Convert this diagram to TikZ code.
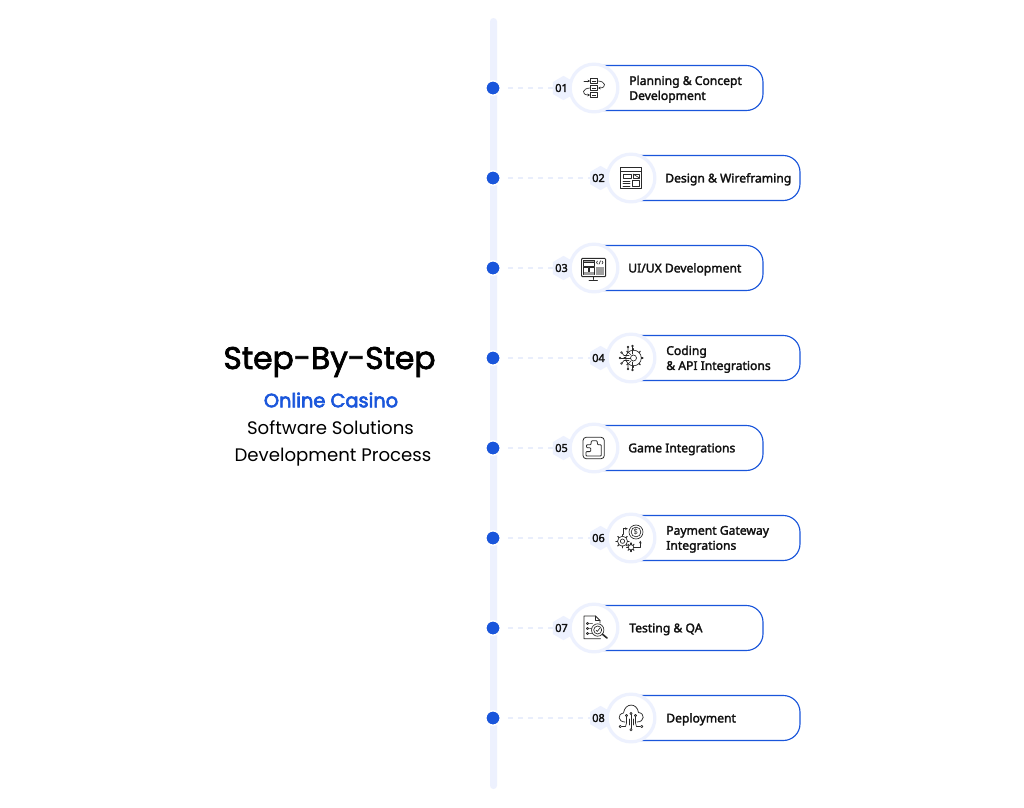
\documentclass[tikz,border=0pt]{standalone}
\usepackage{fontspec}
\usetikzlibrary{shapes.geometric,calc,arrows.meta}
\setmainfont{Poppins}
\newfontfamily\lblfont{Noto Sans}[RawFeature={embolden=2.2}]
\newfontfamily\titlefont{Poppins}[RawFeature={embolden=2.2}]
\newfontfamily\subfont{Poppins}[RawFeature={embolden=3.2}]
\definecolor{brandblue}{HTML}{1A56DB}
\definecolor{palerail}{HTML}{EDF1FE}
\definecolor{paledash}{HTML}{E9EEFC}
\definecolor{inkdark}{HTML}{111111}
\definecolor{icongrey}{HTML}{2A2A2A}
\tikzset{
  x=0.75pt,y=-0.75pt,
  railbar/.style={fill=palerail,rounded corners=2.6pt},
  dotnode/.style={circle,fill=brandblue,draw=white,line width=1.1pt,minimum size=10.8pt,inner sep=0pt},
  hexnode/.style={regular polygon,regular polygon sides=6,shape border rotate=30,fill=palerail,minimum size=18.2pt,inner sep=0pt},
  ringnode/.style={circle,fill=white,draw=palerail,line width=2.4pt,minimum size=35.8pt,inner sep=0pt},
  anchorpt/.style={inner sep=0pt,minimum size=0pt},
  linkdash/.style={draw=paledash,line width=0.9pt,dash pattern=on 3.9pt off 3.6pt,shorten <=5.5pt,shorten >=0pt},
  cardline/.style={draw=brandblue,line width=0.85pt,rounded corners=12.5pt,fill=white},
  numtext/.style={font=\lblfont\fontsize{8.2pt}{9pt}\selectfont,text=inkdark,inner sep=0pt},
  cardtext/.style={font=\lblfont\fontsize{9.1pt}{11.25pt}\selectfont,text=inkdark,align=left,anchor=west,inner sep=0pt},
  icon/.style={draw=icongrey,line width=0.5pt,line cap=round,line join=round},
  iconfill/.style={fill=icongrey!45,draw=icongrey,line width=0.4pt},
  tinyhead/.style={-{Stealth[length=2pt,width=2pt]}},
  headtext/.style={text=black,inner sep=0pt},
}
% item: name, y, circle x, number, text x, text, card width, icon macro
\newcommand\stepitem[8]{%
  \node[dotnode] (dot#1) at (493,#2) {};
  \node[anchorpt] (cardtop#1) at (#3,#2-22.5) {};
  \node[anchorpt] (cardbot#1) at (#3,#2+22.5) {};
  \coordinate (cardtr#1) at (#3+#7,#2-22.5);
  \coordinate (cardbr#1) at (#3+#7,#2+22.5);
  \path[cardline] (cardtop#1.center) -- (cardtr#1) -- (cardbr#1) -- (cardbot#1.center);
  \node[hexnode] (hex#1) at (#3-30.5,#2) {};
  \draw[linkdash] (dot#1) -- (hex#1.west);
  \node[ringnode] (ring#1) at (#3,#2) {};
  \node[numtext] (num#1) at (#3-32.5,#2) {#4};
  \node[cardtext] (text#1) at (#5,#2+1.3) {#6};
  \begin{scope}[shift={(#3,#2)}]#8\end{scope}
}
\newcommand\gearicon[3]{%
  \draw[icon] (#1,#2) circle (#3);
  \foreach \a in {0,45,...,315}{\draw[icon,line width=0.8pt] ($(#1,#2)+(\a:#3)$) -- ($(#1,#2)+(\a:#3+1.6)$);}
}
\newcommand\iconplan{%
  \foreach \v in {-7,0,7}{\draw[icon] (-3.5,\v-2.6) rectangle (3.5,\v+2.6); \draw[icon,line width=0.3pt] (-1.8,\v) -- (1.8,\v);}
  \draw[icon,tinyhead] (-10,-7) -- (-3.8,-7);
  \draw[icon,tinyhead] (3.5,-7) .. controls (12,-7) and (13,0) .. (4,0);
  \draw[icon,tinyhead] (-3.5,0) .. controls (-12,0) and (-13,7) .. (-4,7);
}
\newcommand\icondesign{%
  \draw[icon,line width=0.6pt] (-10.5,-10.5) rectangle (10.5,10.5);
  \draw[icon,line width=0.6pt] (-10.5,-7) -- (10.5,-7);
  \draw[icon] (-8,-4) rectangle (0,0);
  \draw[icon] (2,-4) rectangle (8.5,0);
  \draw[icon] (2,-4) -- (8.5,0);
  \draw[icon] (-8,3) -- (-1,3) (-8,5.5) -- (-1,5.5) (-8,8) -- (-1,8);
  \draw[icon] (1,2.5) rectangle (8.5,8);
}
\newcommand\iconui{%
  \draw[icon,line width=0.7pt,rounded corners=0.8pt] (-12.5,-9.7) rectangle (11.7,8.7);
  \draw[icon] (-10.5,-7.5) rectangle (0,-2);
  \draw[iconfill] (-10.5,-7.5) rectangle (0,-5.5);
  \draw[icon] (-10.5,-0.5) rectangle (-6,6.5);
  \draw[icon] (-4.5,-0.5) rectangle (0,6.5);
  \draw[iconfill,draw=none] (-10.5,4) rectangle (0,6.5);
  \draw[iconfill,draw=none] (2,-1) rectangle (9.7,6.5);
  \draw[icon] (3.5,-7) -- (2.5,-5.5) -- (3.5,-4) (8,-7) -- (9,-5.5) -- (8,-4) (6.5,-7.2) -- (5,-3.8);
  \draw[icon,line width=0.6pt] (-1,8.7) -- (-1,11.5) (-5,12) -- (3.5,12);
}
\newcommand\iconcode{%
  \gearicon{2.5}{0}{7.8}
  \draw[icon] (2.5,0) circle (3);
  \draw[icon] (-0.5,0) -- (-10.5,0);
  \draw[icon] (0,-3) -- (-3,-6) -- (-3,-10) (-2,-2.5) -- (-7,-2.5) -- (-9,-5);
  \draw[icon] (0,3) -- (-3,6) -- (-3,10) (-2,2.5) -- (-7,2.5) -- (-9,5);
  \draw[icon] (1.5,-4) -- (1.5,-11) (1.5,4) -- (1.5,11);
  \foreach \p in {(-11,0),(-3,-11),(-9.5,-5.6),(-3,11),(-9.5,5.6),(1.5,-12),(1.5,12)}{\draw[icon,fill=white] \p circle (0.9);}
}
\newcommand\iconpuzzle{%
  \draw[icon,line width=0.6pt,rounded corners=2.4pt] (-11,-10.7) rectangle (10.3,10.7);
  \draw[icon,line width=0.6pt,rounded corners=0.6pt] (-8,8) -- (7.3,8) -- (7.3,-3.3) -- (3.5,-3.3) -- (3.5,-4.5) -- (3,-7.3) -- (-2.5,-7.3) -- (-3,-4.5) -- (-3,-3.3) -- (-7.5,-3.3) -- (-7.5,-0.3) -- (-3.5,-0.3) -- (-3,1.7) -- (-3.5,3.6) -- (-8,3.6) -- cycle;
}
\newcommand\iconpay{%
  \draw[icon] (5,-6) circle (7);
  \draw[icon] (5,-6) circle (4.9);
  \node[inner sep=0pt,text=icongrey,font=\fontsize{5.5pt}{5.5pt}\selectfont] (paysign) at (5,-6) {\$};
  \gearicon{-8.5}{3.2}{5}
  \draw[icon] (-8.5,3.2) circle (2.2);
  \gearicon{0}{9.3}{2.7}
  \draw[icon,tinyhead] (-7.3,-3.5) -- (-7.3,-9.3) -- (-3.2,-9.3);
  \draw[icon,tinyhead] (3.8,9.3) -- (9.3,9.3) -- (9.3,2.7);
}
\newcommand\icontest{%
  \draw[icon,line width=0.55pt] (6,-5) -- (6,-7.5) -- (1.5,-12) -- (-10,-12) -- (-10,10.7) -- (6.5,10.7);
  \draw[icon] (1.5,-12) -- (1.5,-7.5) -- (6,-7.5);
  \foreach \v in {-4.5,0.5,5.5}{\draw[icon] (-6.5,\v) circle (1.2); \draw[icon,line width=0.7pt,draw=icongrey!70] (-4.5,\v) -- (-1.5,\v);}
  \draw[icon,fill=white] (3.7,2) circle (6.2);
  \draw[icon] (3.7,2) circle (4);
  \draw[icon] (2,2) -- (3.3,3.5) -- (5.7,0.3);
  \draw[icon,line width=1.2pt] (8.4,6.2) -- (13,10);
}
\newcommand\icondeploy{%
  \draw[icon,line width=0.55pt] (-6,4) .. controls (-13,4) and (-14,-4) .. (-7.5,-5) .. controls (-6,-15.5) and (6,-15.5) .. (7.5,-5.5) .. controls (14,-5) and (14,4) .. (6,4);
  \draw[icon] (-9.5,8.5) -- (-5.5,8.5) -- (-4.5,5) -- (-4.5,-2);
  \draw[icon] (9.5,8.5) -- (5.5,8.5) -- (4.5,5) -- (4.5,-2);
  \draw[icon] (0,-4) -- (0,11);
  \draw[icon] (-2,1) -- (-2,7) (2,1) -- (2,7);
  \foreach \p in {(-10.7,8.5),(10.7,8.5),(0,11.8),(-4.5,-2.5),(4.5,-2.5),(0,-4.5)}{\draw[icon,fill=white] \p circle (1.2);}
}
\begin{document}
\begin{tikzpicture}
\useasboundingbox (0,0) rectangle (1024,807);
\fill[white] (0,0) rectangle (1024,807);
\path[railbar] (490,18) rectangle (497,789);
\node[headtext,font=\titlefont\fontsize{23.5pt}{26pt}\selectfont] (heading) at (329.5,362) {Step-By-Step};
\node[headtext,text=brandblue,font=\subfont\fontsize{14.5pt}{17pt}\selectfont] (sub1) at (331,400) {Online Casino};
\node[headtext,font=\fontsize{13.6pt}{17pt}\selectfont] (sub2) at (330.5,427.5) {Software Solutions};
\node[headtext,font=\fontsize{13.6pt}{17pt}\selectfont] (sub3) at (333,457) {Development Process};
\stepitem{a}{88}{594}{01}{629}{Planning \& Concept\\Development}{169}{\iconplan}
\stepitem{b}{178}{631}{02}{665}{Design \& Wireframing}{169}{\icondesign}
\stepitem{c}{268}{594}{03}{628}{UI/UX Development}{169}{\iconui}
\stepitem{d}{358}{631}{04}{666}{Coding\\\& API Integrations}{169}{\iconcode}
\stepitem{e}{448}{594}{05}{628}{Game Integrations}{169}{\iconpuzzle}
\stepitem{f}{538}{631}{06}{666}{Payment Gateway\\Integrations}{169}{\iconpay}
\stepitem{g}{628}{594}{07}{629}{Testing \& QA}{169}{\icontest}
\stepitem{h}{718}{631}{08}{666}{Deployment}{169}{\icondeploy}
\end{tikzpicture}
\end{document}
